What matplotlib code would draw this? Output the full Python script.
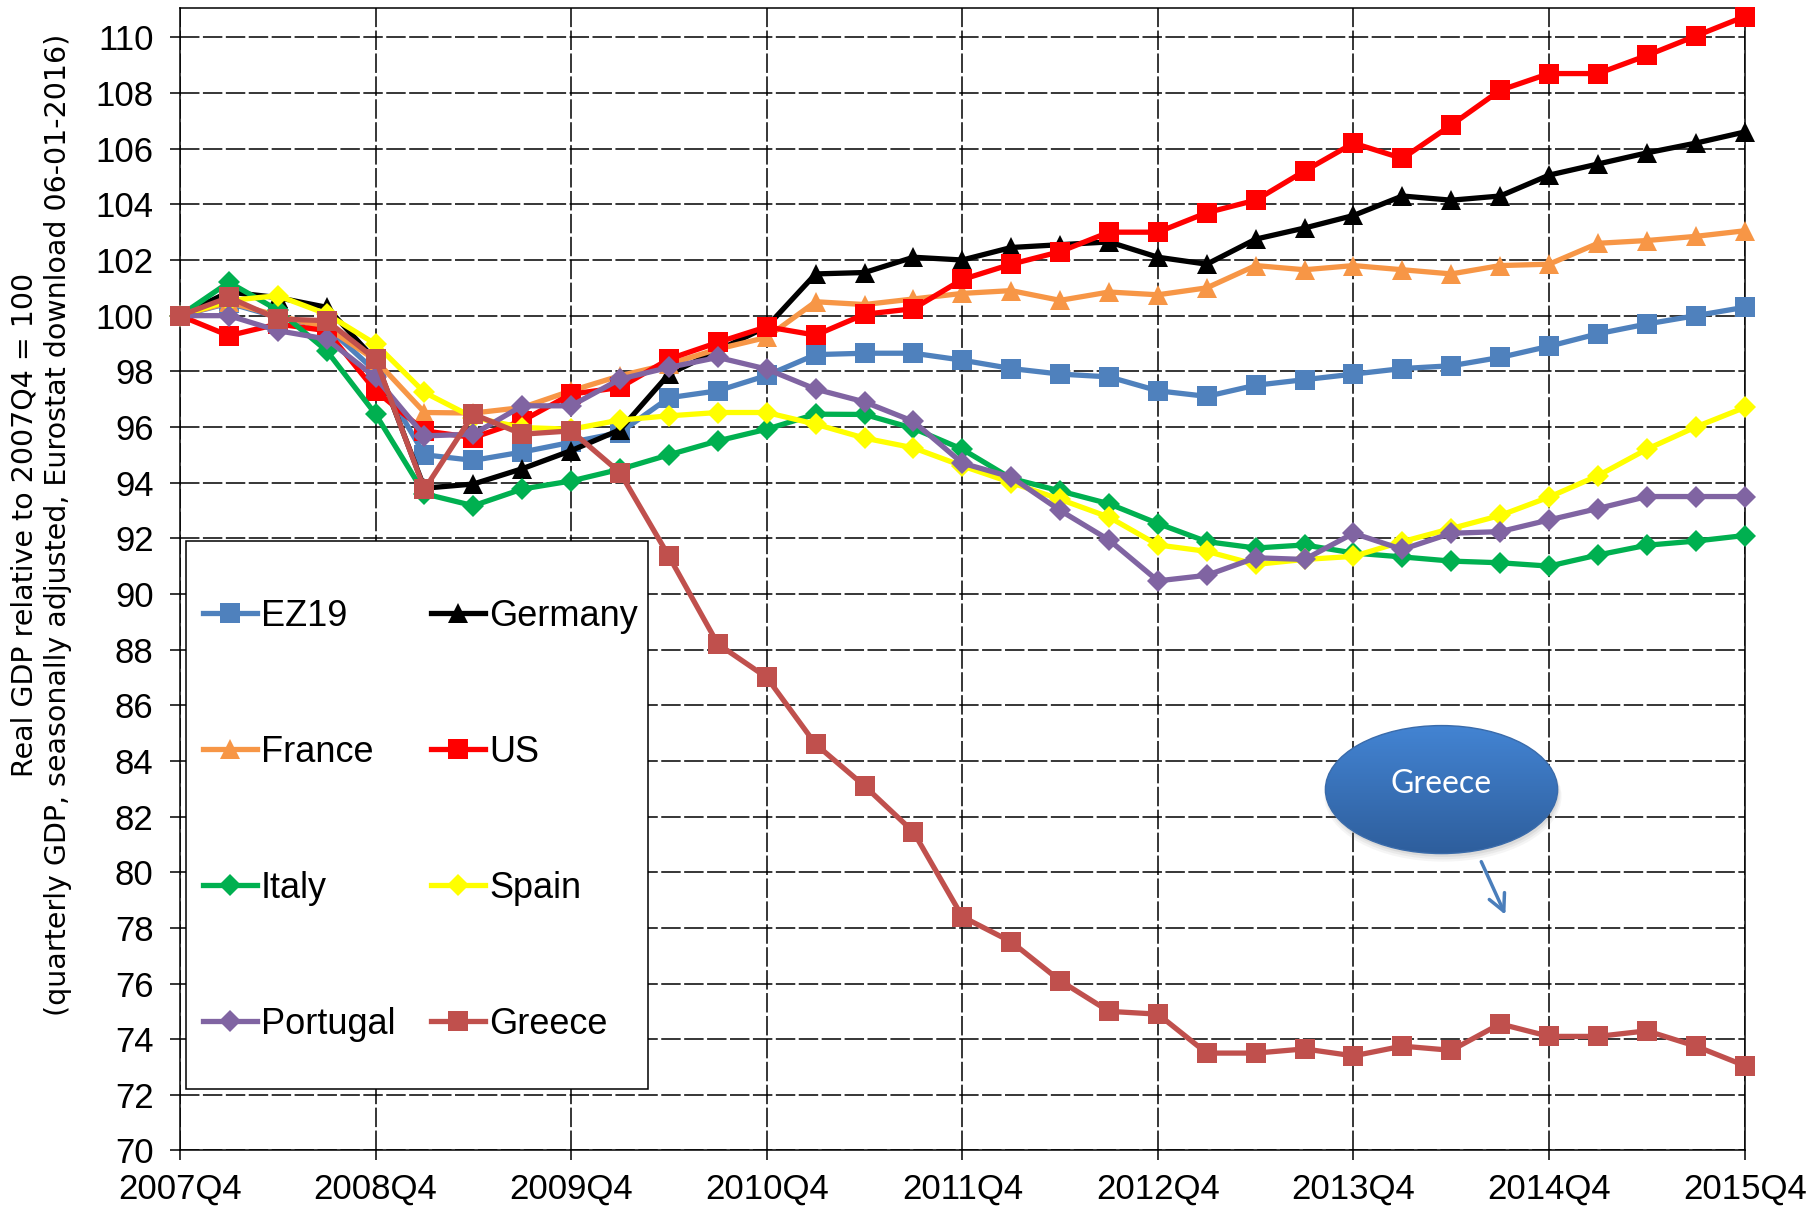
import matplotlib
matplotlib.use('Agg')
import matplotlib.pyplot as plt
from matplotlib.patches import Ellipse, Rectangle
from matplotlib.colors import LinearSegmentedColormap
import numpy as np

plt.rcParams['font.family'] = ['Liberation Sans', 'DejaVu Sans']
plt.rcParams['lines.scale_dashes'] = False

# quarters 2007Q4 .. 2015Q4, index 2007Q4 = 100
year_labels = ['2007Q4', '2008Q4', '2009Q4', '2010Q4', '2011Q4',
               '2012Q4', '2013Q4', '2014Q4', '2015Q4']

ez19 = [100, 100.45, 99.95, 99.6, 98.0, 95.0, 94.8, 95.1, 95.45, 95.8, 97.05,
        97.3, 97.85, 98.6, 98.65, 98.65, 98.4, 98.1, 97.9, 97.8, 97.3, 97.1,
        97.5, 97.7, 97.9, 98.1, 98.2, 98.5, 98.9, 99.35, 99.7, 100.0, 100.3]
germany = [100, 100.85, 100.65, 100.3, 98.4, 93.8, 93.95, 94.5, 95.15, 95.9,
           97.9, 98.75, 99.6, 101.5, 101.55, 102.1, 102.0, 102.45, 102.55,
           102.65, 102.1, 101.85, 102.75, 103.15, 103.6, 104.3, 104.15, 104.3,
           105.05, 105.45, 105.85, 106.2, 106.6]
france = [100, 100.48, 100.0, 99.58, 98.4, 96.52, 96.5, 96.7, 97.3, 97.84,
          98.26, 98.8, 99.22, 100.5, 100.4, 100.6, 100.8, 100.9, 100.55,
          100.85, 100.75, 101.0, 101.8, 101.65, 101.8, 101.65, 101.5, 101.8,
          101.85, 102.6, 102.7, 102.85, 103.05]
us = [100, 99.28, 99.7, 99.46, 97.3, 95.86, 95.62, 96.22, 97.18, 97.42, 98.44,
      99.04, 99.6, 99.3, 100.05, 100.25, 101.3, 101.85, 102.3, 103.0, 103.0,
      103.7, 104.15, 105.2, 106.2, 105.65, 106.85, 108.1, 108.7, 108.7,
      109.35, 110.05, 110.75]
italy = [100, 101.2, 100.2, 98.74, 96.46, 93.6, 93.17, 93.77, 94.06, 94.48,
         95.0, 95.5, 95.92, 96.46, 96.45, 95.95, 95.2, 94.15, 93.7, 93.24,
         92.53, 91.88, 91.65, 91.76, 91.47, 91.33, 91.18, 91.12, 91.0, 91.4,
         91.75, 91.9, 92.1]
spain = [100, 100.54, 100.72, 100.06, 98.98, 97.24, 96.34, 95.98, 95.92,
         96.25, 96.4, 96.52, 96.52, 96.1, 95.6, 95.25, 94.6, 94.0, 93.4, 92.76,
         91.76, 91.53, 91.06, 91.24, 91.35, 91.88, 92.35, 92.82, 93.48, 94.25,
         95.2, 96.0, 96.7]
portugal = [100, 100.0, 99.46, 99.16, 97.78, 95.68, 95.74, 96.76, 96.76,
            97.72, 98.14, 98.5, 98.08, 97.36, 96.9, 96.2, 94.7, 94.2, 93.0,
            91.94, 90.47, 90.67, 91.3, 91.24, 92.18, 91.6, 92.18, 92.24,
            92.66, 93.07, 93.5, 93.5, 93.5]
greece = [100, 100.66, 99.88, 99.82, 98.44, 93.76, 96.46, 95.74, 95.86, 94.36,
          91.35, 88.2, 87.0, 84.6, 83.1, 81.45, 78.4, 77.5, 76.1, 75.0, 74.9,
          73.5, 73.5, 73.65, 73.4, 73.75, 73.6, 74.55, 74.1, 74.1, 74.3, 73.75,
          73.05]

series = [('EZ19', ez19, '#4F81BD', 's', 14.5),
          ('Germany', germany, '#000000', '^', 15),
          ('France', france, '#F79646', '^', 15),
          ('US', us, '#FF0000', 's', 14.5),
          ('Italy', italy, '#00B050', 'D', 11.5),
          ('Spain', spain, '#FFFF00', 'D', 11.5),
          ('Portugal', portugal, '#8064A2', 'D', 11.5),
          ('Greece', greece, '#C0504D', 's', 14.5)]

fig = plt.figure(figsize=(18.2, 12.19), dpi=100)
ax = fig.add_axes([0.0989, 0.0562, 0.8597, 0.9371])

x = np.arange(len(ez19))
handles = {}
for i, (name, vals, col, mk, ms) in enumerate(series):
    h, = ax.plot(x, vals, color=col, lw=3.8, marker=mk, markersize=ms,
                 markeredgewidth=0, label=name, zorder=3 + i * 0.1,
                 clip_on=False)
    handles[name] = h

ax.set_xlim(0, 32)
ax.set_ylim(70, 111.05)
ax.set_yticks(np.arange(70, 111, 2))
ax.set_xticks(np.arange(0, 33, 4))
ax.set_xticklabels(year_labels)

dash = (0, (14, 2.5))
ax.grid(True, color='black', lw=1.1, linestyle=dash, zorder=1)
ax.set_axisbelow(True)
ax.tick_params(axis='both', direction='out', length=7, width=1.1,
               labelsize=25, color='black')
ax.tick_params(axis='y', pad=12)
ax.tick_params(axis='x', pad=9)
for s in ax.spines.values():
    s.set_linewidth(1.1)
    s.set_color('black')

# legend box
ax.add_patch(Rectangle((0.0037, 0.0539), 0.2953, 0.4796, transform=ax.transAxes,
                       facecolor='white', edgecolor='black', lw=1.1, zorder=2.5))
order = ['EZ19', 'France', 'Italy', 'Portugal', 'Germany', 'US', 'Spain', 'Greece']
ax.legend([handles[n] for n in order], order, ncol=2, loc='upper left',
          bbox_to_anchor=(0.1115, 0.509), bbox_transform=fig.transFigure,
          frameon=False, fontsize=26, handlelength=1.5, handletextpad=0.1,
          columnspacing=1.0, labelspacing=2.8, borderpad=0, borderaxespad=0,
          numpoints=1)

# y-axis title, two lines
fig.text(0.0135, 0.5695, 'Real GDP relative to 2007Q4 = 100', rotation=90,
         ha='center', va='center', fontsize=20.5, family='DejaVu Sans')
fig.text(0.0317, 0.5695,
         '(quarterly GDP, seasonally adjusted, Eurostat download 06-01-2016)',
         rotation=90, ha='center', va='center', fontsize=20.5, family='DejaVu Sans')

# Greece callout
cx, cy, ew, eh = 25.8, 82.97, 4.75, 4.6
for k, a in enumerate([0.10, 0.08, 0.06]):
    ax.add_patch(Ellipse((cx + 0.03, cy - 0.12 - 0.06 * k), ew + 0.05 * k,
                         eh + 0.05 * k, facecolor='#606060', alpha=a,
                         edgecolor='none', zorder=5))
ell = Ellipse((cx, cy), ew, eh, facecolor='none', edgecolor='#3A6BAA', lw=1,
              zorder=6.5)
ax.add_patch(ell)
cmap = LinearSegmentedColormap.from_list('blu', ['#2E5E9C', '#4384D3'])
grad = np.linspace(0, 1, 200).reshape(-1, 1)
im = ax.imshow(grad, cmap=cmap, origin='lower', aspect='auto',
               extent=[cx - ew / 2, cx + ew / 2, cy - eh / 2, cy + eh / 2],
               zorder=6)
im.set_clip_path(ell)
ax.text(cx, cy + 0.2, 'Greece', color='white', fontsize=23, family='Lato',
        ha='center', va='center', zorder=7)
ax.annotate('', xy=(27.13, 78.38), xytext=(26.59, 80.47),
            arrowprops=dict(arrowstyle='->', color='#4A7EBB', lw=2.5,
                            mutation_scale=30), zorder=7)
ax.set_xlim(0, 32)
ax.set_ylim(70, 111.05)

fig.savefig('out.png', dpi=100)
